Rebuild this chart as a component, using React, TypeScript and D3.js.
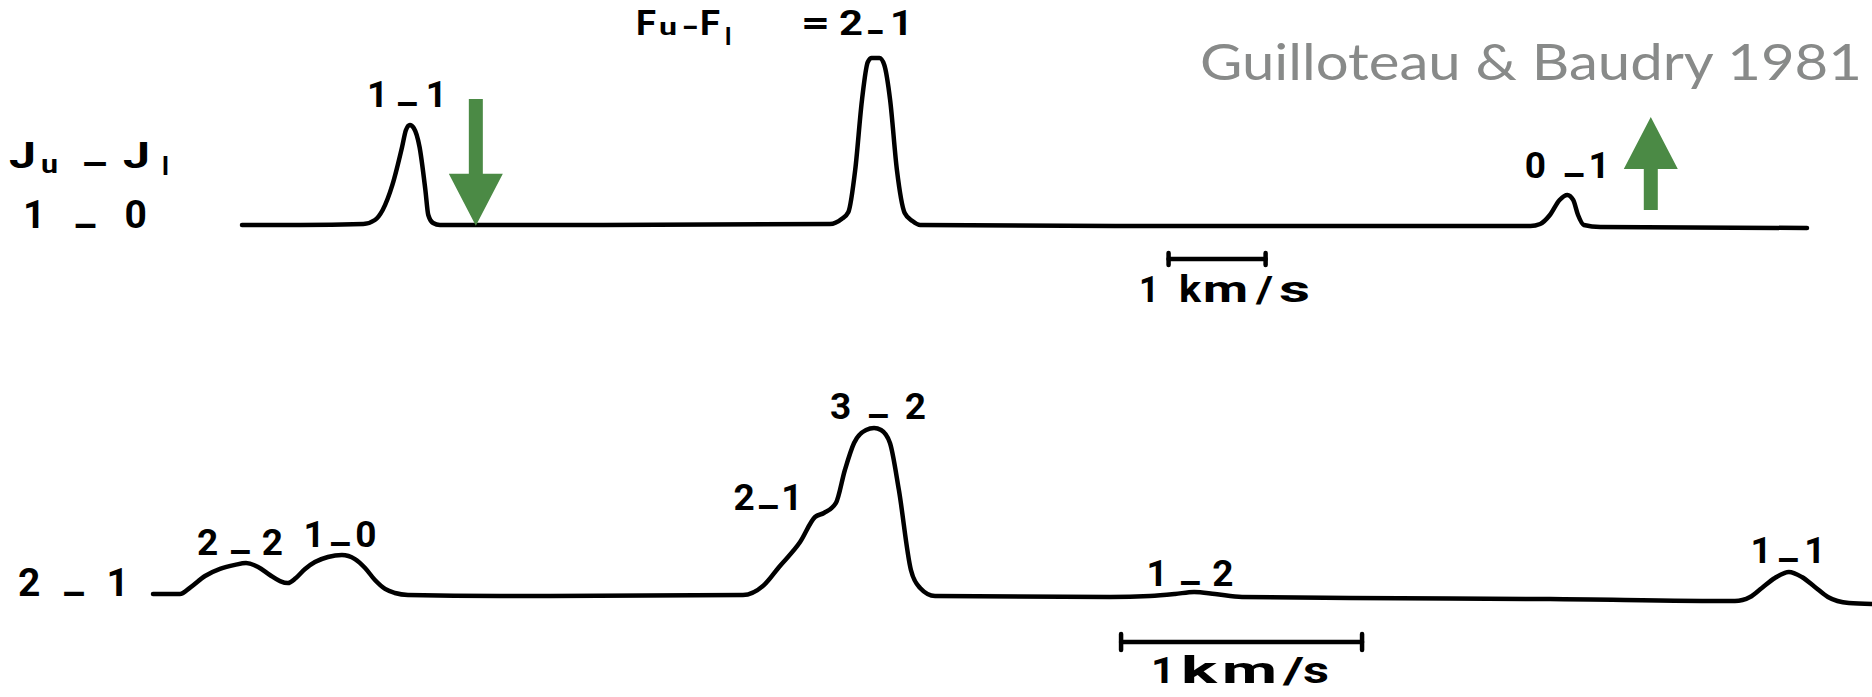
import React from "react";
import * as d3 from "d3";

const W = 1872;
const H = 697;

// ---- Upper spectrum: J = 1-0 (velocity offset in km/s, relative intensity) ----
const topVelocity = [
  0.0, 0.6, 1.25, 1.37, 1.45, 1.55, 1.65, 1.69, 1.73, 1.77, 1.83, 1.89, 1.92, 1.97, 2.04,
  3.69, 6.06, 6.18, 6.25, 6.32, 6.39, 6.45, 6.49, 6.57, 6.62, 6.68, 6.75, 6.83, 6.91, 6.99,
  9.87, 13.28, 13.38, 13.48, 13.58, 13.66, 13.72, 13.77, 13.83, 14.0, 16.13,
];
const topIntensity = [
  0, 0, 0.6, 3.0, 9.0, 24.0, 46.7, 56.9, 59.9, 58.1, 46.7, 21.0, 6.0, 1.2, 0,
  0, 0.6, 3.6, 7.8, 32.9, 74.9, 97.6, 100, 100, 95.8, 74.9, 32.9, 7.2, 2.4, 0,
  -0.6, -0.6, 0.6, 6.0, 15.0, 18.0, 15.0, 6.0, 0, -1.2, -1.8,
];

// ---- Lower spectrum: J = 2-1 ----
const bottomVelocity = [
  0.0, 0.112, 0.154, 0.216, 0.278, 0.34, 0.386, 0.436, 0.485, 0.527, 0.56, 0.593, 0.631, 0.672,
  0.726, 0.784, 0.838, 0.88, 0.921, 0.963, 1.004, 1.058, 1.44, 2.448, 2.535, 2.598, 2.685,
  2.747, 2.784, 2.834, 2.871, 2.909, 2.959, 2.992, 3.021, 3.058, 3.095, 3.145, 3.183, 3.245,
  3.971, 4.137, 4.241, 4.32, 4.407, 4.519, 4.967, 5.797, 6.564, 6.627, 6.676, 6.73, 6.788,
  6.842, 6.896, 6.95, 7.037, 7.133,
];
const bottomIntensity = [
  1.2, 1.2, 5.0, 11.9, 16.1, 18.5, 19.6, 17.3, 12.5, 8.9, 7.7, 10.7, 16.1, 20.2,
  23.2, 24.4, 22.0, 16.7, 9.5, 4.2, 1.8, 0.6, 0, 0.6, 6.5, 17.3, 32.1,
  47.0, 49.4, 55.4, 75.0, 91.1, 98.8, 100, 98.8, 91.1, 63.1, 15.5, 4.8, 0,
  -0.6, 0, 1.2, 2.4, 1.2, -0.6, -1.2, -1.8, -3.0, -0.6, 4.8, 10.7, 14.3,
  11.3, 5.4, -0.6, -4.2, -4.8,
];

// ---- Hyperfine component labels (F_u - F_l) and where they sit (velocity, intensity) ----
const topLabelText = ["1_1", "0 _1"];
const topLabelVel = [1.70, 13.66];
const topLabelInt = [70.7, 28.1];

const bottomLabelText = ["2_2", "1_0", "2_1", "3_2", "1_2", "1_1"];
const bottomLabelVel = [0.361, 0.776, 2.552, 3.008, 4.303, 6.784];
const bottomLabelInt = [24.4, 29.2, 51.2, 105.4, 6.0, 19.6];

// scale bars (start velocity, length in km/s)
const topBarStart = 9.55;
const bottomBarStart = 4.017;
const barLength = 1;

// arrows: velocity, tip intensity, tail intensity
const downArrow = { vel: 2.41, tip: -0.5, tail: 75.4 };
const upArrow = { vel: 14.52, tip: 64.7, tail: 9.0 };

const CITATION = "Guilloteau & Baudry 1981";
const UNIT_GLYPHS = ["1", "k", "m", "/", "s"];

const LABEL_FONT = "Roboto, 'Liberation Sans', 'DejaVu Sans', sans-serif";
const GREEN = "#4b8a45";
const DASH = "\u2013";

function DashLabel(props: {
  x: number;
  y: number;
  text: string;
  width: number;
  size?: number;
  shift?: number;
}) {
  const { x, y, text, width } = props;
  const size = props.size ?? 38;
  const shift = props.shift ?? Math.round(size * 0.27);
  const spans: React.ReactNode[] = [];
  let cur = 0;
  Array.from(text).forEach((c, i) => {
    if (c === "_") {
      spans.push(
        <tspan key={i} dy={shift - cur}>
          {DASH}
        </tspan>
      );
      cur = shift;
    } else {
      spans.push(
        <tspan key={i} dy={-cur}>
          {c}
        </tspan>
      );
      cur = 0;
    }
  });
  return (
    <text
      x={x}
      y={y}
      textAnchor="middle"
      fontFamily={LABEL_FONT}
      fontWeight={700}
      fontSize={size}
      fill="#000"
      textLength={width}
      lengthAdjust="spacing"
      style={{ whiteSpace: "pre" }}
    >
      {spans}
    </text>
  );
}

// glyph pieces placed one by one: [text, x, baselineOffset, fontSize, width?]
function Pieces(props: { y: number; pieces: [string, number, number, number, number?][] }) {
  return (
    <g fontFamily={LABEL_FONT} fill="#000">
      {props.pieces.map(([t, x, off, size, w], i) => (
        <text
          key={i}
          x={x}
          y={props.y + off}
          fontSize={size}
          fontWeight={700}
          textLength={w}
          lengthAdjust={w ? "spacingAndGlyphs" : undefined}
        >
          {t}
        </text>
      ))}
    </g>
  );
}

function Arrow(props: { x: number; tipY: number; tailY: number; up: boolean }) {
  const { x, tipY, tailY, up } = props;
  const headLen = 52;
  const headHalf = 27;
  const shaftHalf = 7;
  const dir = up ? 1 : -1;
  const baseY = tipY + dir * headLen;
  const d = [
    `M${x},${tipY}`,
    `L${x + headHalf},${baseY}`,
    `L${x + shaftHalf},${baseY}`,
    `L${x + shaftHalf},${tailY}`,
    `L${x - shaftHalf},${tailY}`,
    `L${x - shaftHalf},${baseY}`,
    `L${x - headHalf},${baseY}`,
    "Z",
  ].join(" ");
  return <path d={d} fill={GREEN} />;
}

function ScaleBar(props: { x1: number; x2: number; y: number; tick: number }) {
  const { x1, x2, y, tick } = props;
  return (
    <g stroke="#000" strokeWidth={4.5} strokeLinecap="round">
      <line x1={x1} x2={x2} y1={y} y2={y} />
      <line x1={x1} x2={x1} y1={y - tick} y2={y + tick} />
      <line x1={x2} x2={x2} y1={y - tick} y2={y + tick} />
    </g>
  );
}

export default function App() {
  const xTop = d3.scaleLinear().domain([0, 16.13]).range([242, 1807]);
  const yTop = d3.scaleLinear().domain([0, 100]).range([225, 58]);
  const xBot = d3.scaleLinear().domain([0, 7.133]).range([153, 1872]);
  const yBot = d3.scaleLinear().domain([0, 100]).range([596, 428]);

  const topData = d3.zip(topVelocity, topIntensity) as [number, number][];
  const botData = d3.zip(bottomVelocity, bottomIntensity) as [number, number][];

  const lineTop = d3
    .line<[number, number]>()
    .x((d) => xTop(d[0]))
    .y((d) => yTop(d[1]))
    .curve(d3.curveMonotoneX);
  const lineBot = d3
    .line<[number, number]>()
    .x((d) => xBot(d[0]))
    .y((d) => yBot(d[1]))
    .curve(d3.curveMonotoneX);

  const topWidths = [80, 85];
  const botWidths = [86, 73, 69, 96, 87, 75];

  // glyph left edges / widths for the two "1 km/s" captions
  const topUnitX = [1139, 1179, 1203, 1256, 1279];
  const topUnitW = [20, 22, 45, 17, 31];
  const botUnitX = [1151, 1181, 1222, 1283, 1303];
  const botUnitW = [24, 36, 55, 21, 26];

  return (
    <svg
      width={W}
      height={H}
      viewBox={`0 0 ${W} ${H}`}
      style={{ position: "absolute", left: 0, top: 0, display: "block", background: "#fff" }}
    >
      <rect x={0} y={0} width={W} height={H} fill="#fff" />

      {/* spectra */}
      <path
        d={lineTop(topData) || ""}
        fill="none"
        stroke="#000"
        strokeWidth={4.5}
        strokeLinejoin="round"
        strokeLinecap="round"
      />
      <path
        d={lineBot(botData) || ""}
        fill="none"
        stroke="#000"
        strokeWidth={4.5}
        strokeLinejoin="round"
        strokeLinecap="round"
      />

      {/* row labels */}
      <Pieces
        y={168}
        pieces={[
          ["J", 9, 0, 36, 27],
          ["u", 41, 5, 26, 17],
          [DASH, 81, 9, 36, 27],
          ["J", 123, 0, 36, 27],
          ["l", 162, 7, 26],
        ]}
      />
      <DashLabel x={85} y={228} text="1 _ 0" width={124} size={39} />
      <DashLabel x={73.5} y={596} text="2 _ 1" width={111} size={39} />

      {/* F_u - F_l header */}
      <Pieces
        y={35}
        pieces={[
          ["F", 636, 0, 35, 20],
          ["u", 659, 0, 24, 18],
          [DASH, 682, 3, 30, 16],
          ["F", 700, 0, 35, 20],
          ["l", 725, 10, 24],
          ["=", 801, 0, 35, 29],
          ["2", 839, 0, 35, 24],
          [DASH, 866, 9, 35, 18],
          ["1", 890, 0, 35, 23],
        ]}
      />

      {/* component labels */}
      {topLabelText.map((t, i) => (
        <DashLabel
          key={"t" + i}
          x={xTop(topLabelVel[i])}
          y={yTop(topLabelInt[i])}
          text={t}
          width={topWidths[i]}
          size={37}
        />
      ))}
      {bottomLabelText.map((t, i) => (
        <DashLabel
          key={"b" + i}
          x={xBot(bottomLabelVel[i])}
          y={yBot(bottomLabelInt[i])}
          text={t}
          width={botWidths[i]}
          size={37}
        />
      ))}

      {/* scale bars */}
      <ScaleBar x1={xTop(topBarStart)} x2={xTop(topBarStart + barLength)} y={259} tick={6} />
      <Pieces
        y={302}
        pieces={UNIT_GLYPHS.map((g, i) => [g, topUnitX[i], 0, 36, topUnitW[i]] as [string, number, number, number, number])}
      />
      <ScaleBar x1={xBot(bottomBarStart)} x2={xBot(bottomBarStart + barLength)} y={642} tick={8} />
      <Pieces
        y={683}
        pieces={UNIT_GLYPHS.map((g, i) => [g, botUnitX[i], 0, 37, botUnitW[i]] as [string, number, number, number, number])}
      />

      {/* arrows */}
      <Arrow x={xTop(downArrow.vel)} tipY={yTop(downArrow.tip)} tailY={yTop(downArrow.tail)} up={false} />
      <Arrow x={xTop(upArrow.vel)} tipY={yTop(upArrow.tip)} tailY={yTop(upArrow.tail)} up={true} />

      {/* citation */}
      <text
        x={1862}
        y={80}
        textAnchor="end"
        fontFamily="Lato, 'Open Sans', sans-serif"
        fontSize={50}
        fill="#888a89"
        textLength={662}
        lengthAdjust="spacingAndGlyphs"
      >
        {CITATION}
      </text>
    </svg>
  );
}
